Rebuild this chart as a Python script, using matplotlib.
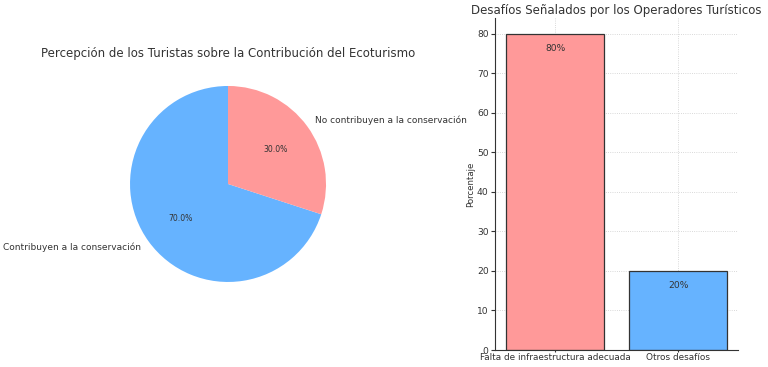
import matplotlib
matplotlib.use("Agg")
import matplotlib.pyplot as plt

# Pie data
pie_labels = ["Contribuyen a la conservación", "No contribuyen a la conservación"]
pie_values = [70, 30]
pie_colors = ["#66b3ff", "#ff9999"]

# Bar data
bar_labels = ["Falta de infraestructura adecuada", "Otros desafíos"]
bar_values = [80, 20]
bar_colors = ["#ff9999", "#66b3ff"]

text_color = "#333333"

fig = plt.figure(figsize=(7.68, 3.67), dpi=100)

# Left: pie chart
ax1 = fig.add_axes([0.1374, 0.1649, 0.319, 0.6676])
wedges, texts, autotexts = ax1.pie(
    pie_values, labels=pie_labels, colors=pie_colors,
    autopct="%1.1f%%", startangle=90,
    textprops={"fontsize": 6.5, "color": text_color},
)
for t in autotexts:
    t.set_fontsize(5.6)
ax1.set_aspect("equal")
ax1.set_title("Percepción de los Turistas sobre la Contribución del Ecoturismo",
              fontsize=8.5, color=text_color, pad=3)

# Right: bar chart
ax2 = fig.add_axes([0.6445, 0.0463, 0.317, 0.9046])
bars = ax2.bar(bar_labels, bar_values, color=bar_colors,
               edgecolor="#333333", linewidth=0.9, zorder=2)
for b, v in zip(bars, bar_values):
    ax2.text(b.get_x() + b.get_width() / 2, v - 3.8, f"{v}%",
             ha="center", va="center", fontsize=6.6, color=text_color)
ax2.set_title("Desafíos Señalados por los Operadores Turísticos",
              fontsize=8.5, color=text_color, pad=3)
ax2.set_ylabel("Porcentaje", fontsize=6.2, color=text_color, labelpad=1)
ax2.tick_params(axis="y", labelsize=6.6, colors=text_color, length=3, pad=1.5)
ax2.tick_params(axis="x", labelsize=6.4, colors=text_color, length=1.5, pad=0.5)
ax2.grid(True, linestyle=":", color="#cccccc", linewidth=0.6, zorder=0)
ax2.set_axisbelow(True)
for side in ["top", "right"]:
    ax2.spines[side].set_visible(False)
for side in ["left", "bottom"]:
    ax2.spines[side].set_color("#333333")
    ax2.spines[side].set_linewidth(0.8)

fig.savefig("out.png", dpi=100, facecolor="white")
